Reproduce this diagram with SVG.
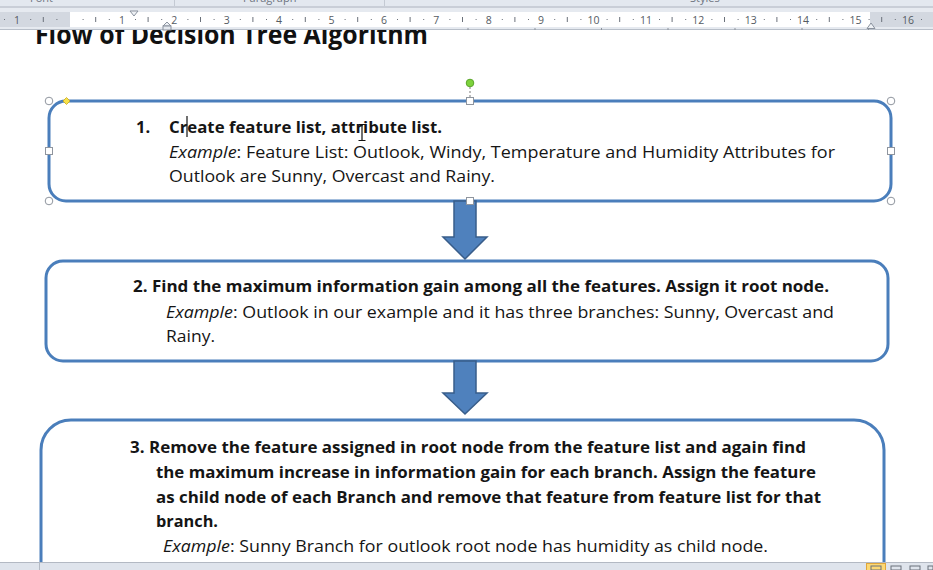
<svg xmlns="http://www.w3.org/2000/svg" width="933" height="570" viewBox="0 0 933 570">
  <style>
    .t { font-family: "Open Sans", "Liberation Sans", sans-serif; font-size: 16.5px; fill: #151515; }
    .b { font-weight: 700; }
    .it { font-style: italic; }
    .box { fill: #ffffff; stroke: #4a7ebb; stroke-width: 3; }
    .arrow { fill: #4f81bd; stroke: #385d8a; stroke-width: 1.5; }
    .rnum { font-family: "Segoe UI", "Open Sans", "Liberation Sans", sans-serif; font-size: 10.5px; fill: #555b63; text-anchor: middle; }
    .rib { font-family: "Open Sans", "Liberation Sans", sans-serif; font-size: 11px; fill: #6e7480; }
    .hc { fill: #ffffff; stroke: #8f959e; stroke-width: 1; }
  </style>
  <defs>
    <clipPath id="docclip"><rect x="0" y="30" width="933" height="532"/></clipPath>
  </defs>

  <!-- page -->
  <rect x="0" y="0" width="933" height="570" fill="#ffffff"/>

  <!-- title (partly hidden under ruler) -->
  <g clip-path="url(#docclip)">
    <text id="title" x="35" y="44" font-family="'Open Sans','Liberation Sans',sans-serif" font-weight="700" font-size="27" fill="#111" textLength="393" lengthAdjust="spacingAndGlyphs">Flow of Decision Tree Algorithm</text>
  </g>

  <!-- ribbon bottom + ruler -->
  <g id="ruler">
    <rect x="0" y="0" width="933" height="7" fill="#e3e8ef"/>
    <text class="rib" x="30" y="2">Font</text>
    <text class="rib" x="243" y="2">Paragraph</text>
    <text class="rib" x="690" y="2">Styles</text>
    <path d="M174.5 0V6 M384.5 0V6" stroke="#c4cad3" stroke-width="1"/>
    <rect x="0" y="6" width="933" height="2" fill="#c9ced7"/>
    <rect x="0" y="8" width="933" height="22" fill="#e6eaf0"/>
    <rect x="0" y="12" width="933" height="15" fill="#d3d8e0"/>
    <rect x="70" y="12" width="800" height="15" fill="#ffffff"/>
    <path d="M0 29.5H933" stroke="#b8bfc9" stroke-width="1"/>
    <!-- ticks -->
    <path stroke="#6b717a" stroke-width="1" d="M43.3 17v5 M95.7 17v5 M148.1 17v5 M200.5 17v5 M252.9 17v5 M305.3 17v5 M357.7 17v5 M410.1 17v5 M462.5 17v5 M514.9 17v5 M567.3 17v5 M619.7 17v5 M672.1 17v5 M724.5 17v5 M776.9 17v5 M829.3 17v5 M881.7 17v5"/>
    <!-- dots -->
    <path stroke="#6b717a" stroke-width="1.2" d="M4 19.5h1 M30.2 19.5h1 M56.4 19.5h1 M82.6 19.5h1 M108.8 19.5h1 M135 19.5h1 M161.2 19.5h1 M187.4 19.5h1 M213.6 19.5h1 M239.8 19.5h1 M266 19.5h1 M292.2 19.5h1 M318.4 19.5h1 M344.6 19.5h1 M370.8 19.5h1 M397 19.5h1 M423.2 19.5h1 M449.4 19.5h1 M475.6 19.5h1 M501.8 19.5h1 M528 19.5h1 M554.2 19.5h1 M580.4 19.5h1 M606.6 19.5h1 M632.8 19.5h1 M659 19.5h1 M685.2 19.5h1 M711.4 19.5h1 M737.6 19.5h1 M763.8 19.5h1 M790 19.5h1 M816.2 19.5h1 M842.4 19.5h1 M868.6 19.5h1 M894.8 19.5h1 M921 19.5h1"/>
    <!-- numbers -->
    <text class="rnum" x="17.1" y="23.5">1</text>
    <text class="rnum" x="121.9" y="23.5">1</text>
    <text class="rnum" x="174.3" y="23.5">2</text>
    <text class="rnum" x="226.7" y="23.5">3</text>
    <text class="rnum" x="279.1" y="23.5">4</text>
    <text class="rnum" x="331.5" y="23.5">5</text>
    <text class="rnum" x="383.9" y="23.5">6</text>
    <text class="rnum" x="436.3" y="23.5">7</text>
    <text class="rnum" x="488.7" y="23.5">8</text>
    <text class="rnum" x="541.1" y="23.5">9</text>
    <text class="rnum" x="593.5" y="23.5">10</text>
    <text class="rnum" x="645.9" y="23.5">11</text>
    <text class="rnum" x="698.3" y="23.5">12</text>
    <text class="rnum" x="750.7" y="23.5">13</text>
    <text class="rnum" x="803.1" y="23.5">14</text>
    <text class="rnum" x="855.5" y="23.5">15</text>
    <text class="rnum" x="907.9" y="23.5">16</text>
    <!-- tab stop marks -->
    <path stroke="#8d939c" stroke-width="1" d="M468 28v2 M535 28v2 M601.5 28v2 M668 28v2 M735 28v2 M802 28v2 M868.5 28v2"/>
    <!-- indent markers -->
    <polygon points="130,11 138,11 134,16" fill="#eef1f5" stroke="#8a929e" stroke-width="1"/>
    <path d="M163 26L167 22L171 26Z" fill="#eef1f5" stroke="#8a929e" stroke-width="1"/>
    <rect x="163" y="26" width="8" height="4" fill="#e4e8ee" stroke="#8a929e" stroke-width="1"/>
    <path d="M867 28.5L871 23L875 28.5Z" fill="#eef1f5" stroke="#8a929e" stroke-width="1"/>
  </g>

  <!-- node 1 -->
  <g id="node1">
    <rect class="box" x="49" y="101" width="842" height="100" rx="17" ry="17"/>
    <text class="t b" x="136" y="133">1.</text>
    <text class="t b" x="169" y="133" textLength="273" lengthAdjust="spacingAndGlyphs">Create feature list, attribute list.</text>
    <text class="t" x="169" y="158" textLength="666" lengthAdjust="spacingAndGlyphs"><tspan class="it">Example</tspan>: Feature List: Outlook, Windy, Temperature and Humidity Attributes for</text>
    <text class="t" x="169" y="182" textLength="326" lengthAdjust="spacingAndGlyphs">Outlook are Sunny, Overcast and Rainy.</text>
  </g>

  <!-- node 2 -->
  <g id="node2">
    <rect class="box" x="46" y="261" width="842" height="100" rx="17" ry="17"/>
    <text class="t b" x="133" y="292" textLength="696" lengthAdjust="spacingAndGlyphs">2. Find the maximum information gain among all the features. Assign it root node.</text>
    <text class="t" x="166" y="318" textLength="668" lengthAdjust="spacingAndGlyphs"><tspan class="it">Example</tspan>: Outlook in our example and it has three branches: Sunny, Overcast and</text>
    <text class="t" x="166" y="342" textLength="49" lengthAdjust="spacingAndGlyphs">Rainy.</text>
  </g>

  <!-- node 3 -->
  <g id="node3">
    <rect class="box" x="41" y="420" width="843" height="200" rx="30" ry="30"/>
    <text class="t b" x="130" y="453" textLength="676" lengthAdjust="spacingAndGlyphs">3. Remove the feature assigned in root node from the feature list and again find</text>
    <text class="t b" x="156" y="478" textLength="660" lengthAdjust="spacingAndGlyphs">the maximum increase in information gain for each branch. Assign the feature</text>
    <text class="t b" x="156" y="503" textLength="665" lengthAdjust="spacingAndGlyphs">as child node of each Branch and remove that feature from feature list for that</text>
    <text class="t b" x="156" y="527" textLength="62" lengthAdjust="spacingAndGlyphs">branch.</text>
    <text class="t" x="163" y="552" textLength="605" lengthAdjust="spacingAndGlyphs"><tspan class="it">Example</tspan>: Sunny Branch for outlook root node has humidity as child node.</text>
  </g>

  <!-- connectors -->
  <g id="connectors">
    <path class="arrow" d="M454 201H476V237H487L465 259L443 237H454Z"/>
    <path class="arrow" d="M454 361H476V393H487L465 414L443 393H454Z"/>
  </g>

  <!-- selection handles on node 1 -->
  <g id="selection">
    <path d="M470 87V99" stroke="#7a7a7a" stroke-width="1" stroke-dasharray="2,2"/>
    <circle cx="470" cy="83" r="3.8" fill="#7dd23c" stroke="#5aa52a" stroke-width="1"/>
    <circle class="hc" cx="49" cy="101" r="3.8"/>
    <circle class="hc" cx="891" cy="101" r="3.8"/>
    <circle class="hc" cx="49" cy="201" r="3.8"/>
    <circle class="hc" cx="891" cy="201" r="3.8"/>
    <rect class="hc" x="466.5" y="97.5" width="7" height="7"/>
    <rect class="hc" x="466.5" y="197.5" width="7" height="7"/>
    <rect class="hc" x="45.5" y="147.5" width="7" height="7"/>
    <rect class="hc" x="887.5" y="147.5" width="7" height="7"/>
    <polygon points="66.5,97.5 70,101 66.5,104.5 63,101" fill="#f7e14a" stroke="#c9a81c" stroke-width="0.8"/>
    <!-- text cursor and I-beam -->
    <path d="M187 116V137" stroke="#111" stroke-width="1.2"/>
    <path d="M358.5 124.5h7 M362 124.5V140.5 M358.5 140.5h7" stroke="#111" stroke-width="1.2" fill="none"/>
  </g>

  <!-- status bar -->
  <g id="statusbar">
    <rect x="0" y="562" width="933" height="8" fill="#dfe4ec"/>
    <path d="M0 562.5H933" stroke="#b3b9c3" stroke-width="1"/>
    <path d="M39.5 563V570" stroke="#b3b9c3" stroke-width="1"/>
    <rect x="866.5" y="563.5" width="19" height="7" fill="#fcd874" stroke="#e0a63a" stroke-width="1"/>
    <rect x="871" y="566" width="10" height="4" fill="none" stroke="#6a717b" stroke-width="1"/>
    <rect x="891" y="566" width="10" height="4" fill="none" stroke="#6a717b" stroke-width="1"/>
    <rect x="910" y="566" width="10" height="4" fill="none" stroke="#6a717b" stroke-width="1"/>
    <rect x="928" y="566" width="5" height="4" fill="none" stroke="#6a717b" stroke-width="1"/>
  </g>
</svg>
